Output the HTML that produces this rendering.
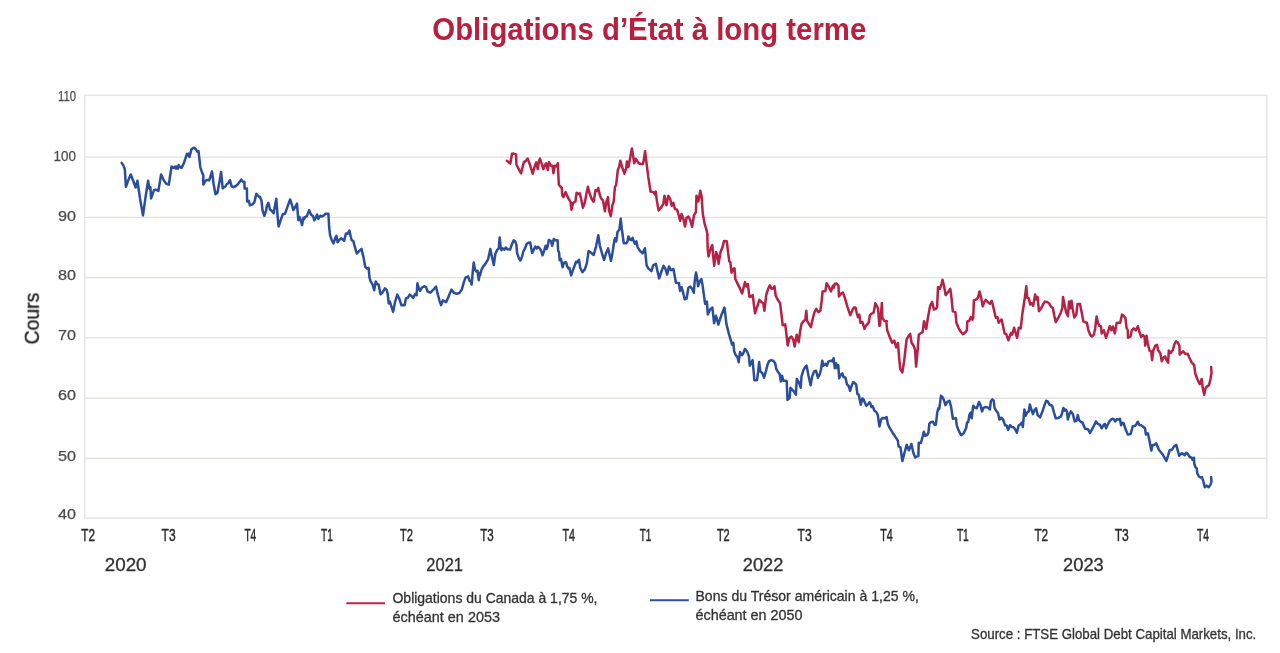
<!DOCTYPE html>
<html lang="fr">
<head>
<meta charset="utf-8">
<title>Obligations d’État à long terme</title>
<style>
html,body{margin:0;padding:0;background:#fff;}
body{width:1280px;height:653px;overflow:hidden;font-family:"Liberation Sans",sans-serif;}
svg{display:block;}
text{font-family:"Liberation Sans",sans-serif;}
</style>
</head>
<body>
<svg width="1280" height="653" viewBox="0 0 1280 653">
<defs><filter id="soft" x="0" y="0" width="1280" height="653" filterUnits="userSpaceOnUse"><feGaussianBlur stdDeviation="0.45"/></filter></defs>
<rect width="1280" height="653" fill="#fff"/>
<text x="432.3" y="39.7" font-size="31.2" font-weight="bold" fill="#b5213f" textLength="434" lengthAdjust="spacingAndGlyphs">Obligations d’État à long terme</text>
<g filter="url(#soft)">
<g stroke="#e3e1de" stroke-width="1.4" fill="none"><line x1="84.7" x2="1266.7" y1="458.4" y2="458.4"/><line x1="84.7" x2="1266.7" y1="398.2" y2="398.2"/><line x1="84.7" x2="1266.7" y1="337.9" y2="337.9"/><line x1="84.7" x2="1266.7" y1="277.6" y2="277.6"/><line x1="84.7" x2="1266.7" y1="217.4" y2="217.4"/><line x1="84.7" x2="1266.7" y1="157.1" y2="157.1"/>
<rect x="84.7" y="95.3" width="1182.0" height="422.8" stroke-width="1.7" stroke="#e8e7e5"/></g>
<g font-size="14.6" fill="#4b4b4b" stroke="#4b4b4b" stroke-width="0.25"><text x="76" y="101.0" text-anchor="end" textLength="18" lengthAdjust="spacingAndGlyphs">110</text><text x="76" y="161.2" text-anchor="end" textLength="22.4" lengthAdjust="spacingAndGlyphs">100</text><text x="76" y="220.6" text-anchor="end" textLength="18" lengthAdjust="spacingAndGlyphs">90</text><text x="76" y="280.2" text-anchor="end" textLength="18" lengthAdjust="spacingAndGlyphs">80</text><text x="76" y="340.0" text-anchor="end" textLength="18" lengthAdjust="spacingAndGlyphs">70</text><text x="76" y="400.3" text-anchor="end" textLength="18" lengthAdjust="spacingAndGlyphs">60</text><text x="76" y="460.5" text-anchor="end" textLength="18" lengthAdjust="spacingAndGlyphs">50</text><text x="76" y="519.3" text-anchor="end" textLength="18" lengthAdjust="spacingAndGlyphs">40</text></g>
<g font-size="16.6" fill="#2a2a2a" stroke="#2a2a2a" stroke-width="0.45"><text x="81.3" y="540.9" textLength="13.7" lengthAdjust="spacingAndGlyphs">T2</text><text x="161.6" y="540.9" textLength="14.0" lengthAdjust="spacingAndGlyphs">T3</text><text x="244.4" y="540.9" textLength="11.9" lengthAdjust="spacingAndGlyphs">T4</text><text x="321" y="540.9" textLength="11.8" lengthAdjust="spacingAndGlyphs">T1</text><text x="400" y="540.9" textLength="13.0" lengthAdjust="spacingAndGlyphs">T2</text><text x="480.3" y="540.9" textLength="13.5" lengthAdjust="spacingAndGlyphs">T3</text><text x="562.5" y="540.9" textLength="12.5" lengthAdjust="spacingAndGlyphs">T4</text><text x="639.7" y="540.9" textLength="11.6" lengthAdjust="spacingAndGlyphs">T1</text><text x="716.9" y="540.9" textLength="12.8" lengthAdjust="spacingAndGlyphs">T2</text><text x="797.5" y="540.9" textLength="14.1" lengthAdjust="spacingAndGlyphs">T3</text><text x="880.3" y="540.9" textLength="12.5" lengthAdjust="spacingAndGlyphs">T4</text><text x="956.9" y="540.9" textLength="11.9" lengthAdjust="spacingAndGlyphs">T1</text><text x="1034.4" y="540.9" textLength="13.7" lengthAdjust="spacingAndGlyphs">T2</text><text x="1114.7" y="540.9" textLength="14.1" lengthAdjust="spacingAndGlyphs">T3</text><text x="1196.9" y="540.9" textLength="12.1" lengthAdjust="spacingAndGlyphs">T4</text></g>
<g font-size="18.4" fill="#303030" stroke="#303030" stroke-width="0.3"><text x="104.7" y="571.3" textLength="41.9" lengthAdjust="spacingAndGlyphs">2020</text><text x="426.3" y="571.3" textLength="36.7" lengthAdjust="spacingAndGlyphs">2021</text><text x="742.8" y="571.3" textLength="40.6" lengthAdjust="spacingAndGlyphs">2022</text><text x="1063.1" y="571.3" textLength="40.7" lengthAdjust="spacingAndGlyphs">2023</text></g>
<text transform="translate(38.8,344.4) rotate(-90)" font-size="21" fill="#1e1e1e" stroke="#1e1e1e" stroke-width="0.4" textLength="51.7" lengthAdjust="spacingAndGlyphs">Cours</text>
<polyline fill="none" stroke="#2b4d9c" stroke-width="2.5" stroke-linejoin="round" stroke-linecap="round" points="121.7,162.9 123.2,165.1 124.8,169.1 125.9,186.7 128.8,178.9 130.7,174.5 133.2,180.8 135.7,187.5 137.4,180.8 140.1,199 143,215.4 145.8,195.3 148.1,180.8 149.2,188.4 150.4,187.1 151.1,198.4 154,190.2 155.8,189.6 158.4,190.9 161.1,174.5 164,180.8 166.3,183.7 168.8,184.6 171.5,166.6 173.4,167.9 175.1,166.6 175.9,168.6 176.8,166.6 177.8,168.6 178.8,165.1 180.3,167.4 181.6,167.9 184.1,162.6 186.9,153.8 188.1,155.7 188.9,153.6 189.5,157 191.4,149.4 192.9,148.2 194.4,147.8 196,149.4 197.3,151.6 198.5,151.1 199.4,158.8 200.4,167.6 201.7,171.4 203.3,175.2 203.3,184.6 205.4,180.8 207.3,179.9 209.2,180.4 212,171.4 213.6,184 215.5,194.3 217.4,192.7 219.3,182.7 221.1,172 222.7,188.4 224.3,187.1 225.3,186.7 226.8,184 228.1,183.3 229.9,180.2 231.6,186.2 233.1,187.1 235.6,186.2 238.1,184 241.2,179.6 242.5,181.4 244.4,181.7 244.6,188.4 246.9,188.4 247.1,201.5 248.8,200.9 250,205.3 252.5,204.3 254.4,202.2 256.3,193.8 258.8,196.5 260,197 261.5,200.7 262.5,210.1 264.4,215.8 266,210.8 266.9,205.7 268.4,202.9 270,209.5 271.6,210.8 273.6,213.3 275.1,205.1 276.3,198.8 277.6,216.4 278.6,226.5 280.7,220.2 282.9,213.9 285.1,213.7 287.6,206.4 290.1,199.5 292,205.1 293.3,210.1 295.2,207 297,203.6 298.3,220.2 299.6,217 300.4,219.6 302.1,225 303.3,217.7 304.2,218.9 305.2,217 306.7,216.4 309.2,210.1 310.9,214.5 312.5,215.8 313.4,217 314.3,220.4 315.9,217.7 317.1,214.5 318.4,218.9 320.3,215.8 322.2,216.4 324.1,215.2 325.3,213.7 328.4,213.7 329.1,226.5 330.1,235.3 331.6,239.7 333.5,243.4 335.1,238.4 336.4,235.9 337.6,242.2 339.4,239.7 341.4,238.4 344.1,240.9 346,233.4 347.5,233.8 349.4,230.5 350.7,236.5 351.7,240.3 353.2,240.9 354.8,246.6 356.7,253.5 358.6,251.6 361.5,248.8 363,255.4 363.2,255.7 365.3,267 367,268.6 368.6,267.9 369.5,277.7 370.7,281.4 372.6,284.6 374.2,290.2 375.7,281.4 377,284 378.6,284.6 380.5,294.3 382.4,292.7 384.9,288.4 386.8,290.2 387.7,294 388.7,303.4 389.9,301.5 390.8,304.7 393.1,311.8 395.2,301.5 397.3,294.6 399.4,299 401.5,305.3 403.4,305.1 404.6,305.3 405.9,298.4 407.8,297.8 409.7,294.6 411.5,295.9 413.2,298 415.1,294 416.6,295.3 417.4,283.3 418.8,288.4 420.1,290.9 421.8,287.7 424.1,286.2 426,287.1 427.6,291.5 430.4,292.7 432.9,290.2 436,286.5 437.9,294.6 439.4,300.3 441.1,305.1 442.9,300.3 446.1,302.2 448.6,296.5 451.5,289.6 453.6,292.5 456.8,293.8 459.3,293 461.8,289.6 463.7,282.7 465.5,277.7 468.1,276.4 469.6,280.8 470.8,281.4 471.6,284.6 472.8,271.4 473.7,262.6 475,269.5 476.2,271.4 477.5,270.8 478.7,280.2 480,272.7 480,275.4 481.3,270.3 483.1,266.6 485.7,263.4 488.2,259 490.3,249 491.9,256.5 493.8,265.1 495.3,254 497,250.2 498.8,248.4 499.7,237.4 500.7,248.4 501.6,250.2 502.6,248.4 504.5,249.6 505.7,247.5 507.6,249.2 510.1,249.6 512,244 513.7,240.4 515.2,241.4 516.4,244.6 517,252.7 518.9,258.4 520.4,260.5 522.1,256.5 523.3,251.5 525,248.4 526.7,244 528.4,242.7 530.2,242.4 531.5,249.6 532.1,253 533.8,249.6 535.3,246.5 536.8,248.4 538,246.7 539.7,248.4 540.9,250.2 542.5,255.3 544.1,250.9 545.6,245.8 546.6,249 547.6,246.5 548.8,239.9 551,241.4 552.2,245.8 553.8,238.9 555.4,240.2 557.6,240.2 558.1,250.2 559.1,252.7 559.7,260.3 561,259 562.6,267.2 563.9,262.8 566,262.2 567.3,266.6 568.5,268.4 569.4,267.8 571.1,275.4 573.6,268.4 576.1,261.8 577.3,262.2 579,259.7 580.2,267.8 582.4,272.2 584.9,269.1 586.8,263.4 588.6,250.9 591.1,252.7 593.7,255 596.2,245.8 598.3,235.2 599.9,245.8 601.8,252.7 604.1,260 606.2,252.7 608.1,248.4 609.4,254 611,260.9 612.5,252.7 614.4,240.2 615,238.3 616.3,241.4 617.5,232 619.4,229.5 620.7,218.8 621.9,229.5 623.8,243.3 626.3,243.3 627.6,241.4 628.4,236.4 630.1,239.6 631.3,240.2 632.6,237.9 633.8,241.4 635.1,244 636.4,241.4 637.6,247.1 640,250.9 640.7,251.4 642.6,253.3 644.9,248.2 645.7,256.4 646.6,265.2 648.3,268.3 651.4,271.2 653.3,265.2 655.8,263.7 657.7,272.1 659.2,278.4 661.4,271.5 663.6,265.8 665.5,269 667.1,274.6 669,266.4 670.9,270.2 673.4,269 674.6,275.2 675.9,282.8 679,283 680,290.9 681.5,287.2 682.5,290.3 684.7,299.3 686.6,298.5 688.4,287.8 690.3,286.5 692.2,289.1 693.8,292.8 694.7,281.5 696,272.5 697.2,279 698.1,286.3 699.7,281.5 701.4,279 702.6,285.3 704.1,296.6 705.1,303.9 706.9,301.6 707.8,314.5 710.1,309.4 712.4,307.6 714.1,323.3 716,315.7 718.3,324.5 721.4,315.1 724.5,307.6 726.4,323.9 728.9,333.9 732.1,344.6 733.3,342.7 734.2,351.5 735.8,355.3 737.5,357.2 738.7,362.2 740,351.9 741.9,355.1 743.1,353.8 745,348.8 746.9,351.3 748.8,355.7 749.8,365.7 751.1,363.2 752.6,360.1 753.6,371.4 754.4,380.2 757,380.2 758.2,371.4 759.1,362 760.3,371.4 762.4,373.3 764.1,377.7 765.7,372 767.4,365.1 769.1,361.1 771.1,360.1 773.3,360.7 775.2,363.2 776.2,368.9 777.7,371.4 779.6,373.9 780.8,381.4 782.1,375.8 783.3,380.8 785.2,380.8 786.7,381.2 787.5,400 789.6,397.8 790.5,387.7 792.1,389.6 794,391.5 795.9,394.6 796.8,378.9 799,382.7 800.7,387.7 801.5,376.4 803.4,370.1 805.3,367 806.6,365.7 808.4,375.2 810.6,385.2 812.2,376.4 814.1,371.4 816,370.8 816.9,373.9 817.9,377.7 819.7,374.5 821,369.5 822.3,360.7 823.5,365.7 825.4,363.9 826.9,365.7 828.5,361.4 831.1,360.7 832.3,361.4 833.6,358.2 834.8,368.3 836.1,363.2 837.3,368.3 838.3,365.1 839.2,378.3 841.1,374.5 842.4,373.3 843.6,377 845.5,377.7 847,384.6 848.6,385.8 850.1,390.9 851.8,385.2 853.3,382.1 854.9,383.3 856.2,384.6 857.4,394 858.7,394.6 859.6,399 860.8,404.7 862.4,398.4 863.7,399.7 866.2,405.9 868.1,404.1 869.4,402.2 870,402.6 871.5,407 872.8,406.4 874.4,410.7 876.3,412 877.8,415.1 879.4,426.4 881.1,419.5 882.6,417.9 885.1,418.3 886.6,417 887.8,423.9 889.5,427.7 892.6,432.7 896.4,438.4 897.9,440.9 898.6,446.5 900.4,447.2 902.4,461 904.5,452.8 906.7,444.7 908.9,450.3 911.4,444 913.3,452.8 915.2,457.6 916.5,456.6 918.4,456 918.7,442.8 920.9,443 922.5,437.1 923.8,431.7 925.3,435.9 927.1,435.2 928.4,432.7 929.3,423.9 930.9,422 932.8,421.7 934.7,424.9 935.9,424.6 937.2,412.6 938.4,408.2 939.3,408.9 941,395.7 942.8,397.6 944.1,400.7 945.4,405.1 947.2,402 949.4,400.7 951,406.4 952.9,418.7 956,418.3 956.7,425.2 958.5,430.2 961.1,435.2 963.6,433.4 966.1,428.3 967,422.7 968.2,422 969.5,414.5 970.7,412.6 971.7,418.3 973.2,405.7 974.9,407.6 976.8,408.2 979,402 980.5,405.1 982,411.4 983.7,407.6 986.2,407 988.1,407.6 989.9,409.5 990.8,401.3 992.4,399.4 993.7,400.7 994.6,408.2 996.2,410.7 998.1,413.3 999.4,419.5 1001.2,417.7 1003.1,419.5 1005,425.2 1006.9,425.8 1008.1,430 1010,425.2 1011.9,427.1 1013.8,427.4 1015.3,429.6 1016.9,432.7 1018.5,425.8 1020.7,423.9 1021.9,422.7 1022.8,427.1 1024.4,409.5 1025.7,415.8 1027,412.6 1028.8,411.4 1029.8,404.5 1031.4,409.5 1032.9,414.1 1034.5,410.1 1036.1,408.2 1037.6,415.1 1040.1,417.4 1042.7,410.7 1044.5,405.1 1046.2,400.7 1047.7,401.3 1049.6,404.8 1052.1,405.7 1054,412.6 1055.8,418.3 1058.4,417.9 1060.9,416.4 1061.7,414.5 1063.4,407.9 1064.6,410.7 1065.9,409.5 1067.1,412 1067.8,419.5 1069.3,414.5 1070.9,411.4 1072.8,413.9 1074.7,421.4 1076.6,420.8 1077.8,415.1 1079.1,420.2 1081,422 1082.6,422.7 1085.1,428.7 1087.9,429.2 1090.1,433 1092.9,427.7 1096,421.4 1097.9,423.9 1099.8,424.6 1101.7,428.3 1103.6,424.9 1104.8,423.9 1106.1,428.3 1107.7,424.6 1109.8,420.8 1112.4,418.7 1113.6,418.9 1115.2,421.4 1116.8,419.2 1118.6,419.5 1119.9,418.7 1121.1,425.2 1122.4,422.7 1123.7,423.3 1125.5,429 1127.8,434.6 1130.6,434 1132.8,426.2 1135,425.8 1136.2,424.6 1137.8,421.7 1139.4,424.9 1141.2,425.2 1143.1,426.7 1145,428.3 1145.9,434.6 1147.9,433.4 1149.4,440.3 1151.3,450.6 1152.5,445.3 1154.4,444.7 1156.3,443.4 1157.6,446.5 1158.8,449.7 1161.3,452.8 1163.2,455.3 1166.4,461 1166.3,460.8 1168,455.8 1169.7,450.1 1171.8,449.9 1174.1,446.4 1176.3,444.9 1177.8,450.8 1179.1,455.8 1181.6,453.3 1182.8,453.7 1184.7,455.2 1186,452.9 1187.6,453.7 1189.7,457 1191.6,457.7 1192.6,459.9 1193.9,457.7 1194.4,464 1195.4,467.1 1196.7,468.4 1197.3,473.4 1198.9,476.5 1200.4,477.5 1201.9,477.1 1203.6,482.2 1204.8,487.2 1206.7,485.6 1208.6,487.2 1210.5,484.7 1211.5,481.5 1211.1,477.1"/>
<polyline fill="none" stroke="#b52045" stroke-width="2.5" stroke-linejoin="round" stroke-linecap="round" points="506.9,160.7 510.3,163.6 512,153.8 513.6,153.6 516.1,154.4 516.4,164.5 518.9,169.5 521.1,173.3 523.9,162 525.8,161.1 527.7,158.6 530.2,165.7 532.7,173.7 534.9,165.7 536.2,162.4 537.7,169.1 539,160.7 540,158.6 541.7,163.9 543.4,169.1 545.2,164.5 546.2,163.2 547.7,170.1 549,162 550.9,165.7 552.5,165.7 553.4,173.3 554.7,165.7 556.5,166.4 557.8,163.2 558.8,184.6 560.3,186.5 561.8,188 562.2,195.3 563.4,197.1 565.6,192.1 567.2,195.9 569.1,199.7 570.6,202.2 571.4,209.7 573.1,202.8 575.4,201.5 576.6,192.7 578.1,194 579.8,193.4 581.4,200.3 582.9,207.8 584.8,202.8 586.4,194 587.9,186.7 589.8,194 591.7,199 593.6,201.8 595.5,190.2 597,190.9 598.2,188 599.9,195.3 601.1,198.4 603,200.3 604.9,211.3 606.5,201.5 608,197.1 609,210.3 610.8,216 612.4,205.3 613.7,201.5 614.9,187.1 616.2,184.6 617.8,170.1 619.1,167 620.3,160.7 622.1,167 624.4,173.7 626.2,168.3 626.9,161.4 628.4,167 630,158.8 631.9,148.5 633.1,155.7 634.2,163.2 635.9,158.8 638.2,162.6 640.4,164.1 642.9,164.1 643.8,160.1 645.1,151.3 646.3,161.4 648.2,176.4 650.5,191.5 653.2,192.1 655,194.6 655.7,191.6 657,201.4 658.6,210.5 661.4,207.1 663.3,203.9 664.5,195.8 666.4,205.2 668.3,195.8 670.2,198.9 671.7,205.8 673.3,202.7 674.9,209 677.1,209.6 679,216.5 680.2,220.9 681.5,214 683.4,219 685,226.5 686.5,217.7 688.4,216.5 690.3,220.3 692.1,226.8 694,215.2 695.9,212.1 696.5,195.8 698.4,201.4 700.3,190.7 701.6,196.4 702.8,214 704.7,224 706.6,230.3 707.6,235.3 707.3,235 707.7,248.9 708.5,256.4 710.7,248.2 712.3,245.1 713.2,256.4 714.2,265.8 716.1,252 717.3,255.1 718.6,263.9 720.5,252 722.4,247.6 724,241.1 726.8,241.3 727.8,250.1 729.3,261.4 730.3,262 731.5,272.7 733,269 734.5,268.3 735.3,279 737.4,283.4 739.9,288.4 742.1,293.4 745,282.1 746.2,286.5 747.8,284 749.4,296.6 750,297 752.8,295.1 753.8,303.9 755,313.3 756.9,307.7 759.4,299.9 761.3,302 763.2,303.3 764.4,310.8 766.3,294.5 768.2,288.8 769.8,285.3 771.4,288.6 772.6,288.8 774.5,286.3 775.7,295.7 777.6,299.5 780.1,303.3 781.4,314 782.7,325.3 785.2,324.3 786.4,334.1 787.7,345.4 789.6,337.8 791.4,336.6 793.3,339.7 794.6,346.6 796.7,334.7 798.7,342.2 800.2,330.9 801.5,324 803.4,321.2 805.3,319.6 806.3,310.8 807.1,320.9 809,324 810.9,327.1 812.8,318.4 814.3,312.7 816.3,308.9 818.4,312.1 820.3,310.8 821.6,301.4 822.6,291.4 825.4,291.1 826.6,283.2 828.5,286.3 831,291.4 832.9,285.7 833.9,287.6 834.8,283.8 836.7,283.6 838.5,285.7 838.9,296.4 841.1,293.6 842.9,292.6 844.8,297.6 847.3,306.4 850.2,315.2 852.4,310.2 854,307.4 855.5,307.4 856.8,313.3 858,317.1 859.3,314.6 860.5,322.7 862.4,322.1 864.5,328.8 866.2,325.3 868.7,322.7 869.9,315.2 871.2,314 873.7,312.4 875.3,303.3 876.8,305.8 878.1,308.9 879.4,325.9 880,325.3 881,313.3 881.9,302.9 882.3,317.7 884.4,320.9 886.9,321.2 886.3,321.6 887.2,330.2 889.4,336.3 892.1,342.8 894.3,340.6 896.2,347.4 898,343.1 899.2,358.4 900.2,368.8 902.3,372.5 904.1,361.5 906.6,339.4 908.4,336.3 910.2,333.9 911.5,342.5 913.9,346.2 915.1,350.4 916.1,366.6 917.6,350.4 918.8,334.5 920.7,333.3 922.7,332.1 922.7,331.5 924,321.2 925.2,325.3 926.2,329 927.7,319 930,306.4 932.1,302 934,309.6 935.9,308.9 937.1,307 938,287 940,288.8 941.5,283.8 942.5,279.8 944.1,286.3 945.6,295.1 947.8,292.4 950.3,288.8 951.6,298.9 952.8,311.4 955.4,312.1 956.4,322.7 958.5,327.8 960.4,331.3 962.9,334.3 965.4,332.2 966.9,330.3 967.3,321.5 969.2,320.9 970.7,317.1 972.3,319.6 973.2,317.7 973.9,300.1 976.1,299.5 978,297.6 979.5,291.4 981.1,297.6 982.7,306.4 984.2,302 985.7,299.9 987.8,302 989.9,303.7 991.8,300.8 993.7,308.9 995.8,317.7 997.4,317.1 998.7,322.7 999.9,320.9 1001.6,319.6 1003.1,326.5 1004.6,333.4 1006.2,334.1 1008.4,340.3 1010,335.3 1011.2,332.8 1012.1,334.7 1014.1,327.8 1015.6,332.8 1017.1,337.8 1018.8,327.8 1020.7,328.4 1022.5,312.7 1024.4,300.8 1026.3,286.3 1027.2,297.6 1028.8,298.3 1030.1,304.5 1031.7,303.3 1033.2,305.8 1035.1,294.5 1036.4,299.5 1037.6,297 1038.9,311.2 1041.4,307.7 1043.2,304.1 1045.1,301.6 1047,302 1049.1,303.3 1050.8,306.4 1052.9,308.3 1054.2,315.2 1055.8,322.1 1058.3,317.7 1060.8,312.7 1062.4,307.7 1063,297 1064.6,305.1 1066.2,312.7 1068,316.2 1069,301.4 1070.2,308.3 1071.5,300.7 1072.7,308.9 1074.3,317.4 1076.3,314.6 1077.5,304.1 1080,304.1 1081.5,311.4 1083.4,321.5 1085.3,322.5 1086.8,322.5 1088.4,330.3 1090.3,335 1091.8,336.5 1093.8,334.7 1095.1,329 1096.6,316.4 1097.9,322.7 1099.4,325.9 1101,326.5 1101.6,333.4 1103.9,330.3 1106,337.8 1107.9,332.1 1109.8,326.2 1111.4,330.3 1112.9,326.5 1114.8,333.4 1116.7,323 1118.6,322.7 1120.2,322.7 1122,314.6 1123.6,315.8 1125.5,318.3 1126.5,327.7 1127.8,330.3 1128,337.8 1130.5,336.5 1131.8,330.3 1133.7,328.4 1135.8,330.3 1137.8,326.2 1139.3,331.5 1141.2,337 1143,335.1 1144.6,337 1145.2,345.7 1146.5,335.7 1147.7,343.2 1149.6,350.8 1151.2,351.4 1152.1,360.2 1153.4,349.9 1155.3,345.7 1157.1,344.9 1158,350.1 1160.3,353.3 1161.8,361.2 1163.4,357.7 1165.1,356.4 1166.6,360.2 1168.1,362.7 1168.8,350.4 1170.6,352.9 1172.8,350.1 1174.3,344.5 1176,341.4 1177.9,342.6 1179.4,345.7 1179.7,354.5 1181.6,352.7 1183.1,351.4 1185.4,353.9 1187.7,353.7 1189.4,357.7 1191.4,362.1 1194.2,365.2 1195.2,373.4 1197.3,379 1199.8,384.1 1201.7,379 1202.7,387.8 1204.2,394.7 1205.5,388.4 1206.8,386.6 1209,385.1 1210.5,379 1211.5,372.7 1211.1,367.1"/>
<line x1="346.3" x2="385" y1="603.3" y2="603.3" stroke="#b8254a" stroke-width="2"/>
<line x1="650" x2="688.8" y1="600.2" y2="600.2" stroke="#2d509e" stroke-width="2"/>
<g font-size="14.6" fill="#333" stroke="#333" stroke-width="0.3">
<text x="392.5" y="602.5" textLength="205" lengthAdjust="spacingAndGlyphs">Obligations du Canada à 1,75 %,</text>
<text x="392.5" y="621.8" textLength="107.5" lengthAdjust="spacingAndGlyphs">échéant en 2053</text>
<text x="695.5" y="600.8" textLength="223.3" lengthAdjust="spacingAndGlyphs">Bons du Trésor américain à 1,25 %,</text>
<text x="695.5" y="620.1" textLength="107" lengthAdjust="spacingAndGlyphs">échéant en 2050</text>
</g>
<text x="971.1" y="639.1" font-size="14.2" fill="#333" stroke="#333" stroke-width="0.3" textLength="285.2" lengthAdjust="spacingAndGlyphs">Source : FTSE Global Debt Capital Markets, Inc.</text>
</g>
</svg>
</body>
</html>
